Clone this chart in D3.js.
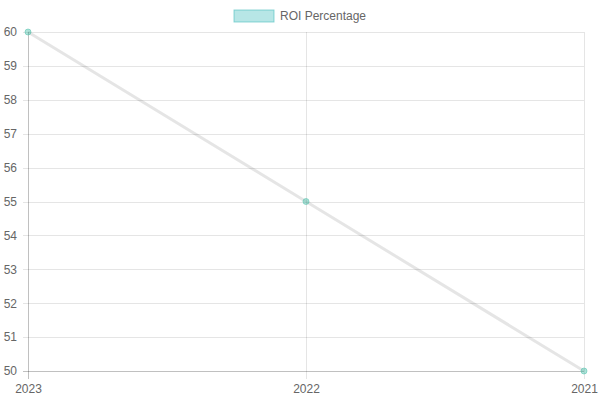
<!DOCTYPE html>
<html><head><meta charset="utf-8">
<script src="https://cdn.jsdelivr.net/npm/d3@7"></script>
<style>body{margin:0;background:#fff}svg{display:block}</style>
</head><body>
<svg id="c" width="600" height="400"></svg>
<script>
const categories = ["2023", "2022", "2021"];
const roiValues = [60, 55, 50];
const yTicks = [50, 51, 52, 53, 54, 55, 56, 57, 58, 59, 60];
const seriesName = "ROI Percentage";

const svg = d3.select("#c");
const m = {l: 28, r: 584, t: 32, b: 371};
const x = d3.scalePoint().domain(categories).range([m.l, m.r]);
const y = d3.scaleLinear().domain([50, 60]).range([m.b, m.t]);
const font = "Liberation Sans, Arial, sans-serif";

const yAxis = d3.axisLeft(y).tickValues(yTicks).tickSize(-(m.r - m.l)).tickFormat(d3.format("d")).tickPadding(11);
const gy = svg.append("g").attr("transform", `translate(${m.l},0)`).call(yAxis);
gy.select(".domain").remove();
gy.selectAll(".tick line").attr("stroke", "rgba(0,0,0,0.1)").attr("x1", -5).attr("shape-rendering", "crispEdges");
gy.selectAll(".tick text").attr("fill", "#666").style("font-family", font).style("font-size", "12px");

const xAxis = d3.axisBottom(x).tickSize(-(m.b - m.t)).tickPadding(13);
const gx = svg.append("g").attr("transform", `translate(0,${m.b})`).call(xAxis);
gx.select(".domain").remove();
gx.selectAll(".tick line").attr("stroke", "rgba(0,0,0,0.1)").attr("y1", 8).attr("shape-rendering", "crispEdges");
gx.selectAll(".tick text").attr("fill", "#666").style("font-family", font).style("font-size", "12px");

svg.append("line").attr("x1", m.l).attr("x2", m.l).attr("y1", m.t).attr("y2", m.b + 8)
  .attr("stroke", "rgba(0,0,0,0.16)").attr("shape-rendering", "crispEdges");
svg.append("line").attr("x1", m.l - 5).attr("x2", m.r).attr("y1", m.b).attr("y2", m.b)
  .attr("stroke", "rgba(0,0,0,0.16)").attr("shape-rendering", "crispEdges");

const data = categories.map((c, i) => ({c, v: roiValues[i]}));
svg.append("path").datum(data)
  .attr("d", d3.line().x(d => x(d.c)).y(d => y(d.v)))
  .attr("fill", "none").attr("stroke", "rgba(0,0,0,0.1)").attr("stroke-width", 3);

svg.selectAll("circle.pt").data(data).join("circle")
  .attr("class", "pt")
  .attr("cx", d => x(d.c)).attr("cy", d => y(d.v)).attr("r", 3)
  .attr("fill", "rgba(75,192,170,0.45)").attr("stroke", "rgba(75,192,170,0.5)").attr("stroke-width", 1);

const lg = svg.append("g");
lg.append("rect").attr("x", 234).attr("y", 10).attr("width", 40).attr("height", 12)
  .attr("fill", "rgba(75,192,192,0.4)").attr("stroke", "rgba(75,192,192,0.6)").attr("stroke-width", 1);
lg.append("text").attr("x", 280).attr("y", 20).text(seriesName)
  .attr("fill", "#666").style("font-family", font).style("font-size", "12px");
</script>
</body></html>
